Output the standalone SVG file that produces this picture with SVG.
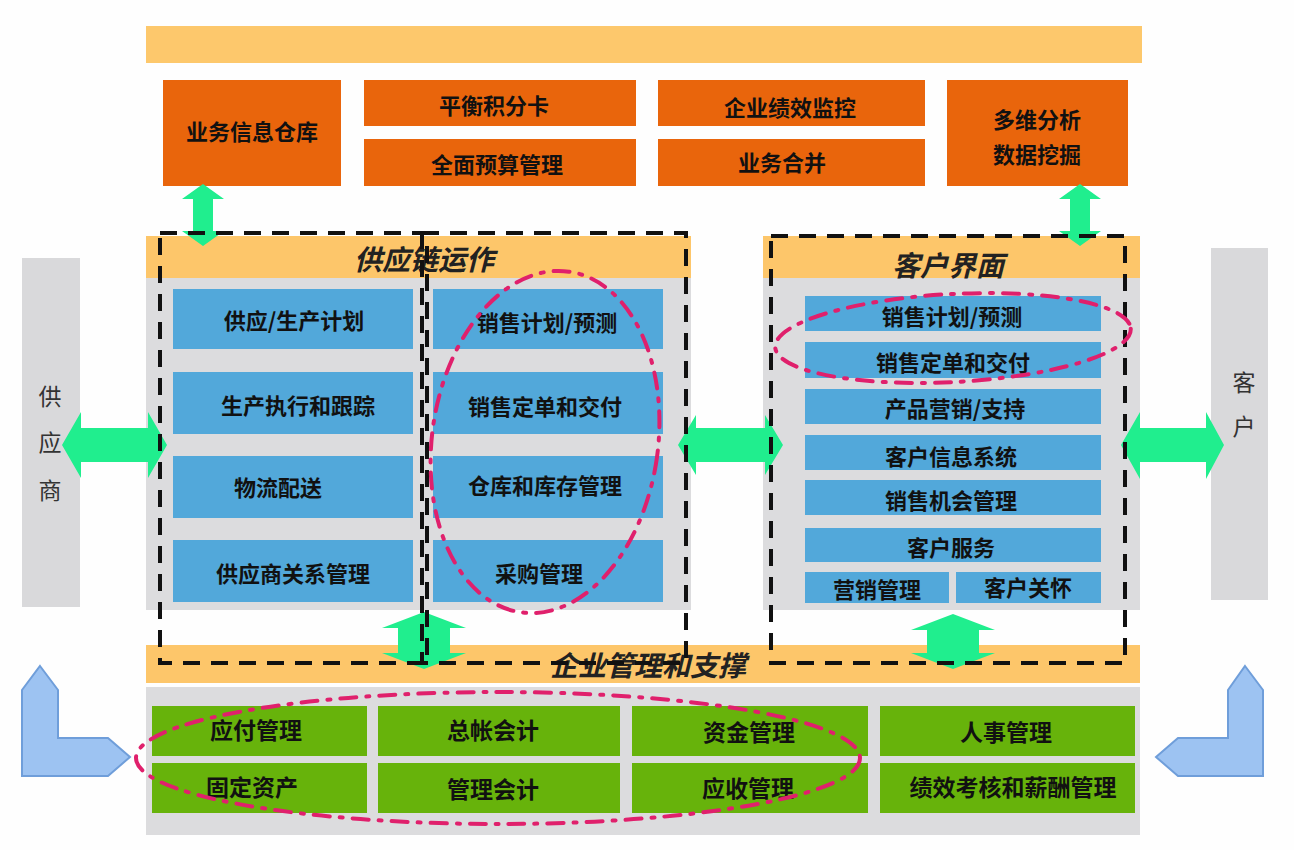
<svg xmlns="http://www.w3.org/2000/svg" width="1294" height="850" viewBox="0 0 1294 850">
<defs>
<style>
.bg{fill:#FEFEFE}
.topbar{fill:#FDC86C}
.org{fill:#E9650C}
.hdr{fill:#FDC66A}
.gray{fill:#DCDCDE}
.blue{fill:#52A8DA}
.grn{fill:#67B30B}
.side{fill:#D9D9DB}
.t{font-family:"Noto Sans CJK SC","Noto Sans CJK TC",sans-serif;font-weight:bold;fill:#111;text-anchor:middle;dominant-baseline:central}
.b{font-size:22px}
.g{font-size:23px}
.h{font-size:28px;font-style:italic;fill:#222}
.s{font-family:"Noto Sans CJK SC",sans-serif;font-size:23px;fill:#333;text-anchor:middle;dominant-baseline:central}
.arr{fill:#20EE8E}
.larr{fill:#9DC3F2;stroke:#6F9EDA;stroke-width:2}
.dash{fill:none;stroke:#111;stroke-width:4;stroke-dasharray:17 11}
.pink{fill:none;stroke:#E0206C;stroke-width:4;stroke-dasharray:16 10 3 10;stroke-linecap:round}
</style>
</defs>
<rect class="bg" x="0" y="0" width="1294" height="850"/>
<rect class="topbar" x="146" y="26" width="996" height="37"/>

<g id="top-nodes">
<g id="n-ywxxck"><rect class="org" x="163" y="80" width="178" height="106"/><text class="t b" x="252" y="130">业务信息仓库</text></g>
<g id="n-phjfk"><rect class="org" x="364" y="80" width="272" height="46"/><text class="t b" x="494" y="104">平衡积分卡</text></g>
<g id="n-qmysgl"><rect class="org" x="364" y="139" width="272" height="47"/><text class="t b" x="497" y="163">全面预算管理</text></g>
<g id="n-qyjxjk"><rect class="org" x="658" y="80" width="267" height="46"/><text class="t b" x="790" y="106">企业绩效监控</text></g>
<g id="n-ywhb"><rect class="org" x="658" y="139" width="267" height="47"/><text class="t b" x="782" y="161">业务合并</text></g>
<g id="n-dwfx"><rect class="org" x="947" y="80" width="181" height="106"/><text class="t b" x="1037" y="118">多维分析</text><text class="t b" x="1037" y="153">数据挖掘</text></g>
</g>

<g id="side-nodes">
<g id="n-gys"><rect class="side" x="22" y="258" width="58" height="349"/><text class="s" x="50" y="395">供</text><text class="s" x="50" y="441">应</text><text class="s" x="50" y="489">商</text></g>
<g id="n-kh"><rect class="side" x="1211" y="248" width="57" height="352"/><text class="s" x="1244" y="381">客</text><text class="s" x="1244" y="425">户</text></g>
</g>

<g id="supply-chain">
<rect class="hdr" x="146" y="236" width="545" height="42"/>
<rect class="gray" x="146" y="278" width="545" height="332"/>
<text class="t h" x="424" y="258">供应链运作</text>
<g id="n-gyscjh"><rect class="blue" x="173" y="289" width="240" height="60"/><text class="t b" x="294" y="319">供应/生产计划</text></g>
<g id="n-xsjhyc1"><rect class="blue" x="433" y="289" width="230" height="60"/><text class="t b" x="547" y="321">销售计划/预测</text></g>
<g id="n-sczx"><rect class="blue" x="173" y="372" width="240" height="62"/><text class="t b" x="298" y="404">生产执行和跟踪</text></g>
<g id="n-xsdd1"><rect class="blue" x="433" y="372" width="230" height="62"/><text class="t b" x="545" y="405">销售定单和交付</text></g>
<g id="n-wlps"><rect class="blue" x="173" y="456" width="240" height="62"/><text class="t b" x="278" y="486">物流配送</text></g>
<g id="n-ckkc"><rect class="blue" x="433" y="456" width="230" height="62"/><text class="t b" x="545" y="484">仓库和库存管理</text></g>
<g id="n-gysgx"><rect class="blue" x="173" y="540" width="240" height="62"/><text class="t b" x="293" y="572">供应商关系管理</text></g>
<g id="n-cggl"><rect class="blue" x="433" y="540" width="230" height="62"/><text class="t b" x="539" y="572">采购管理</text></g>
</g>

<g id="customer">
<rect class="hdr" x="763" y="236" width="377" height="42"/>
<rect class="gray" x="763" y="278" width="377" height="332"/>
<text class="t h" x="948" y="264">客户界面</text>
<g id="n-xsjhyc2"><rect class="blue" x="805" y="296" width="296" height="35"/><text class="t b" x="952" y="315">销售计划/预测</text></g>
<g id="n-xsdd2"><rect class="blue" x="805" y="342" width="296" height="36"/><text class="t b" x="953" y="361">销售定单和交付</text></g>
<g id="n-cpyx"><rect class="blue" x="805" y="389" width="296" height="35"/><text class="t b" x="955" y="407">产品营销/支持</text></g>
<g id="n-khxx"><rect class="blue" x="805" y="435" width="296" height="35"/><text class="t b" x="951" y="455">客户信息系统</text></g>
<g id="n-xsjh"><rect class="blue" x="805" y="480" width="296" height="35"/><text class="t b" x="951" y="499">销售机会管理</text></g>
<g id="n-khfw"><rect class="blue" x="805" y="528" width="296" height="34"/><text class="t b" x="951" y="546">客户服务</text></g>
<g id="n-yxgl"><rect class="blue" x="805" y="572" width="144" height="31"/><text class="t b" x="877" y="588">营销管理</text></g>
<g id="n-khgh"><rect class="blue" x="956" y="572" width="145" height="31"/><text class="t b" x="1028" y="586">客户关怀</text></g>
</g>

<g id="enterprise">
<rect class="hdr" x="146" y="645" width="994" height="38"/>
<rect class="gray" x="146" y="687" width="994" height="148"/>
<text class="t h" x="648" y="664">企业管理和支撑</text>
<g id="n-yfgl"><rect class="grn" x="152" y="706" width="215" height="50"/><text class="t g" x="256" y="729">应付管理</text></g>
<g id="n-zzkj"><rect class="grn" x="378" y="706" width="242" height="50"/><text class="t g" x="493" y="729">总帐会计</text></g>
<g id="n-zjgl"><rect class="grn" x="632" y="706" width="236" height="50"/><text class="t g" x="749" y="731">资金管理</text></g>
<g id="n-rsgl"><rect class="grn" x="880" y="706" width="255" height="50"/><text class="t g" x="1006" y="731">人事管理</text></g>
<g id="n-gdzc"><rect class="grn" x="152" y="763" width="215" height="50"/><text class="t g" x="252" y="786">固定资产</text></g>
<g id="n-glkj"><rect class="grn" x="378" y="763" width="242" height="50"/><text class="t g" x="493" y="788">管理会计</text></g>
<g id="n-ysgl"><rect class="grn" x="632" y="763" width="236" height="50"/><text class="t g" x="748" y="787">应收管理</text></g>
<g id="n-jxkh"><rect class="grn" x="880" y="763" width="255" height="50"/><text class="t g" x="1013" y="786">绩效考核和薪酬管理</text></g>
</g>

<g id="connectors">
<polygon class="arr" points="203,184 224,199 213,199 213,231 224,231 203,246 182,231 193,231 193,199 182,199"/>
<polygon class="arr" points="1080,184 1101,199 1090,199 1090,231 1101,231 1080,246 1059,231 1070,231 1070,199 1059,199"/>
<polygon class="arr" points="62,445 81,412 81,428 148,428 148,412 167,445 148,478 148,462 81,462 81,478"/>
<polygon class="arr" points="678,445 696,415 696,428 765,428 765,415 783,445 765,475 765,462 696,462 696,475"/>
<polygon class="arr" points="1121,445 1140,412 1140,428 1206,428 1206,412 1224,445 1206,479 1206,462 1140,462 1140,479"/>
<polygon class="arr" points="424,612 466,628 450,628 450,653 466,653 424,669 382,653 398,653 398,628 382,628"/>
<polygon class="arr" points="953,614 995,630 979,630 979,653 995,653 953,669 911,653 927,653 927,630 911,630"/>
<polygon class="larr" points="40,666 58,690 58,738 108,738 130,757 108,776 22,776 22,690"/>
<polygon class="larr" points="1245,666 1263,690 1263,776 1178,776 1156,757 1178,738 1228,738 1228,690"/>
</g>

<g id="dashed-groups">
<rect class="dash" x="160" y="233" width="267" height="430"/>
<rect class="dash" x="422" y="233" width="264" height="430"/>
<rect class="dash" x="771" y="236" width="354" height="427"/>
</g>

<g id="highlights">
<ellipse class="pink" cx="545" cy="442" rx="113" ry="172" transform="rotate(8 545 442)"/>
<ellipse class="pink" cx="953" cy="338" rx="178" ry="44" transform="rotate(-3 953 338)"/>
<ellipse class="pink" cx="498" cy="758" rx="362" ry="66"/>
</g>
</svg>
